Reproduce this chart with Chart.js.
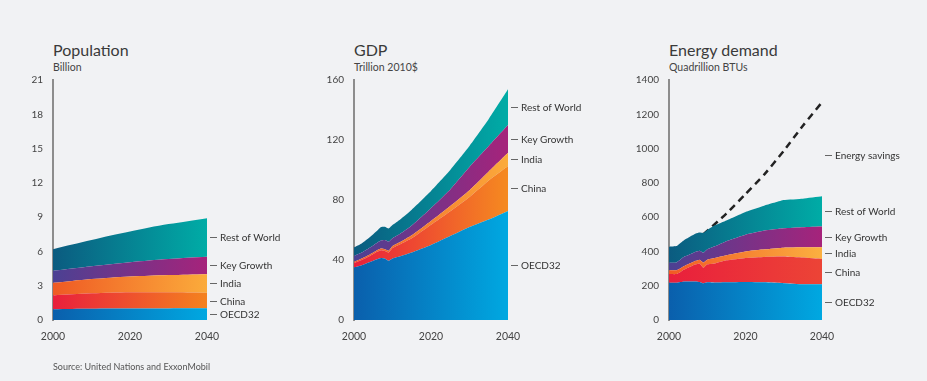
<!DOCTYPE html>
<html>
<head>
<meta charset="utf-8">
<script src="https://cdn.jsdelivr.net/npm/chart.js@4/dist/chart.umd.min.js"></script>
<style>
    html, body { margin: 0; padding: 0; background: #f1f2f4; }
    body { width: 927px; height: 381px; position: relative; overflow: hidden;
           font-family: Lato, "Open Sans", sans-serif; color: #3a3a3a; }
    canvas { position: absolute; top: 0; }
    .title { position: absolute; font-size: 16px; line-height: 16px; white-space: nowrap; }
    .sub { position: absolute; font-size: 10.5px; line-height: 11px; white-space: nowrap; color: #444; }
    .source { position: absolute; left: 53px; top: 362px; font-size: 9px; line-height: 10px; color: #555; }
</style>
</head>
<body>

<div class="title" style="left:53px;top:42px">Population</div>
<div class="sub" style="left:53px;top:62px">Billion</div>
<div class="title" style="left:354px;top:42px">GDP</div>
<div class="sub" style="left:354px;top:62px">Trillion 2010$</div>
<div class="title" style="left:669px;top:42px">Energy demand</div>
<div class="sub" style="left:669px;top:62px">Quadrillion BTUs</div>

<canvas id="popChart" width="309" height="381" style="left:0px"></canvas>
<canvas id="gdpChart" width="309" height="381" style="left:309px"></canvas>
<canvas id="energyChart" width="309" height="381" style="left:618px"></canvas>

<div class="source">Source: United Nations and ExxonMobil</div>

<script>
const SERIES_NAMES = ["OECD32", "China", "India", "Key Growth", "Rest of World"];

// population, billion
const POP_YEARS = [2000, 2005, 2010, 2015, 2020, 2025, 2030, 2035, 2040];
const POP_OECD = [0.95, 0.97, 0.98, 1.0, 1.0, 1.01, 1.01, 1.02, 1.02];
const POP_CHINA = [1.20, 1.28, 1.35, 1.38, 1.42, 1.42, 1.41, 1.39, 1.37];
const POP_INDIA = [1.10, 1.17, 1.25, 1.32, 1.38, 1.44, 1.51, 1.56, 1.61];
const POP_KEY_GROWTH = [1.05, 1.08, 1.12, 1.18, 1.25, 1.33, 1.40, 1.48, 1.54];
const POP_REST = [1.90, 2.10, 2.30, 2.52, 2.70, 2.90, 3.07, 3.20, 3.36];
const POP_Y_TICKS = [0, 3, 6, 9, 12, 15, 18, 21];

// GDP, trillion 2010$
const GDP_YEARS = [2000, 2002, 2004, 2006, 2007, 2008, 2009, 2010, 2012, 2015, 2020, 2025, 2030, 2035, 2040];
const GDP_OECD = [35, 36.5, 38.5, 40.5, 41.3, 41, 39.5, 41, 42.5, 45, 50, 56, 62, 67, 72.7];
const GDP_CHINA = [3, 3.5, 4, 5, 5.2, 5, 5.5, 7, 8, 9.5, 13.5, 16.5, 20, 26, 30];
const GDP_INDIA = [0.8, 1, 1, 1, 1.1, 1.2, 1.2, 1.3, 1.5, 2, 2.5, 3.5, 4.5, 6, 8.8];
const GDP_KEY_GROWTH = [3.9, 4, 4.5, 5, 5.4, 6.1, 6, 5.2, 5.5, 6.5, 8.5, 11, 15.5, 17, 18.5];
const GDP_REST = [5.7, 6, 7, 8, 9, 8.9, 8.8, 8.8, 9.5, 10.5, 11.5, 13, 14, 18, 23.8];
const GDP_Y_TICKS = [0, 40, 80, 120, 160];

// energy demand, quadrillion BTUs
const ENERGY_YEARS = [2000, 2002, 2004, 2005, 2007, 2008, 2009, 2010, 2012, 2015, 2020, 2025, 2030, 2035, 2040];
const ENERGY_OECD = [218, 218, 225, 225, 225, 222, 214, 220, 218, 220, 222, 220, 215, 208, 208];
const ENERGY_CHINA = [50, 50, 70, 80, 100, 108, 91, 105, 112, 128, 140, 148, 155, 156, 148];
const ENERGY_INDIA = [22, 22, 20, 20, 20, 22, 30, 27, 32, 30, 38, 44, 52, 60, 69];
const ENERGY_KEY_GROWTH = [44, 46, 55, 53, 53, 52, 57, 60, 68, 82, 98, 110, 113, 117, 120];
const ENERGY_REST = [94, 96, 97, 102, 107, 106, 116, 113, 122, 120, 132, 146, 165, 167, 177];
const SAVINGS_YEARS = [2009, 2015, 2020, 2025, 2030, 2035, 2040];
const SAVINGS_TOTAL = [500, 621, 735, 851, 987, 1133, 1270];
const ENERGY_Y_TICKS = [0, 200, 400, 600, 800, 1000, 1200, 1400];

const X_TICKS = [2000, 2020, 2040];

const FONT = "Lato, 'Open Sans', sans-serif";
Chart.defaults.font.family = FONT;
Chart.defaults.color = "#444";
Chart.defaults.animation = false;

// horizontal gradients for each band (left colour, right colour)
const BAND_COLORS = {
    pop: [["#0a5fac", "#00a8e1"], ["#e91f3c", "#f4821f"], ["#ef5a24", "#fbab3b"], ["#4b4193", "#a6237b"], ["#0b5b80", "#00aca6"]],
    gdp: [["#0a5fac", "#00a8e1"], ["#e91f3c", "#f58a20"], ["#f15a24", "#fbab3b"], ["#4b4193", "#a6237b"], ["#0b5b80", "#00aca6"]],
    energy: [["#0a5fac", "#00a8e1"], ["#e91f3c", "#ec4436"], ["#f15a24", "#fbb040"], ["#4b4193", "#a6237b"], ["#0b5b80", "#00aca6"]]
};

function gradientFill(stops) {
    return function (context) {
        const area = context.chart.chartArea;
        if (!area) return stops[0];
        const g = context.chart.ctx.createLinearGradient(area.left, 0, area.right, 0);
        g.addColorStop(0, stops[0]);
        g.addColorStop(1, stops[1]);
        return g;
    };
}

function toPoints(years, values) {
    return years.map((x, i) => ({ x: x, y: values[i] }));
}

// labels on the right: each one sits at the middle of its band at the last year
const sideLabels = {
    id: "sideLabels",
    afterDatasetsDraw(chart, args, opts) {
        const { ctx, chartArea, scales } = chart;
        ctx.save();
        ctx.font = "10px " + FONT;
        ctx.textBaseline = "middle";
        opts.items.forEach(item => {
            const y = Math.round(scales.y.getPixelForValue(item.value)) + 0.5;
            ctx.strokeStyle = "#666";
            ctx.lineWidth = 1;
            ctx.beginPath();
            ctx.moveTo(chartArea.right + 3, y);
            ctx.lineTo(chartArea.right + 10, y);
            ctx.stroke();
            ctx.fillStyle = "#333";
            ctx.fillText(item.text, chartArea.right + 13, y);
        });
        ctx.restore();
    }
};

function bandLabels(series) {
    let base = 0;
    return series.map((values, i) => {
        const last = values[values.length - 1];
        const item = { text: SERIES_NAMES[i], value: base + last / 2 };
        base += last;
        return item;
    });
}

function makePanel(id, years, series, cfg) {
    const datasets = series.map((values, i) => ({
        label: SERIES_NAMES[i],
        data: toPoints(years, values),
        backgroundColor: gradientFill(cfg.colors[i]),
        borderWidth: 0,
        pointRadius: 0,
        fill: i === 0 ? "origin" : "-1",
        tension: cfg.tension,
        stack: "regions"
    }));

    const labels = bandLabels(series);
    (cfg.extra || []).forEach(d => datasets.push(d));
    (cfg.extraLabels || []).forEach(l => labels.push(l));

    const ctx = document.getElementById(id).getContext("2d");
    return new Chart(ctx, {
        type: "line",
        data: { datasets: datasets },
        options: {
            responsive: false,
            devicePixelRatio: 1,
            layout: { padding: { left: 0, top: 80, right: cfg.padRight, bottom: 31 } },
            plugins: {
                legend: { display: false },
                tooltip: { enabled: false },
                sideLabels: { items: labels }
            },
            scales: {
                x: {
                    type: "linear",
                    min: 2000,
                    max: 2040,
                    border: { display: false },
                    grid: { display: false, drawTicks: false },
                    afterBuildTicks: s => { s.ticks = X_TICKS.map(v => ({ value: v })); },
                    ticks: { padding: 10, maxRotation: 0, font: { size: 10.5 }, color: "#444", callback: v => v },
                    afterFit: s => { s.height = 30; }
                },
                y: {
                    stacked: true,
                    min: 0,
                    max: cfg.yTicks[cfg.yTicks.length - 1],
                    border: { display: true, color: "#8d8d8d", width: 2 },
                    grid: { display: false, drawTicks: false },
                    afterBuildTicks: s => { s.ticks = cfg.yTicks.map(v => ({ value: v })); },
                    ticks: { padding: 10, font: { size: 10 }, color: "#444", callback: v => v },
                    afterFit: s => { s.width = cfg.yWidth; }
                }
            }
        },
        plugins: [sideLabels]
    });
}

makePanel("popChart", POP_YEARS,
    [POP_OECD, POP_CHINA, POP_INDIA, POP_KEY_GROWTH, POP_REST],
    { colors: BAND_COLORS.pop, yTicks: POP_Y_TICKS, yWidth: 53, padRight: 102, tension: 0.3 });

makePanel("gdpChart", GDP_YEARS,
    [GDP_OECD, GDP_CHINA, GDP_INDIA, GDP_KEY_GROWTH, GDP_REST],
    { colors: BAND_COLORS.gdp, yTicks: GDP_Y_TICKS, yWidth: 45, padRight: 110, tension: 0.15 });

makePanel("energyChart", ENERGY_YEARS,
    [ENERGY_OECD, ENERGY_CHINA, ENERGY_INDIA, ENERGY_KEY_GROWTH, ENERGY_REST],
    {
        colors: BAND_COLORS.energy, yTicks: ENERGY_Y_TICKS, yWidth: 51, padRight: 105, tension: 0.1,
        extra: [{
            label: "Energy savings",
            data: toPoints(SAVINGS_YEARS, SAVINGS_TOTAL),
            borderColor: "#222",
            borderWidth: 2.5,
            borderDash: [7, 5],
            pointRadius: 0,
            fill: false,
            tension: 0.2,
            stack: "savings"
        }],
        extraLabels: [{ text: "Energy savings", value: 960 }]
    });
</script>
</body>
</html>
